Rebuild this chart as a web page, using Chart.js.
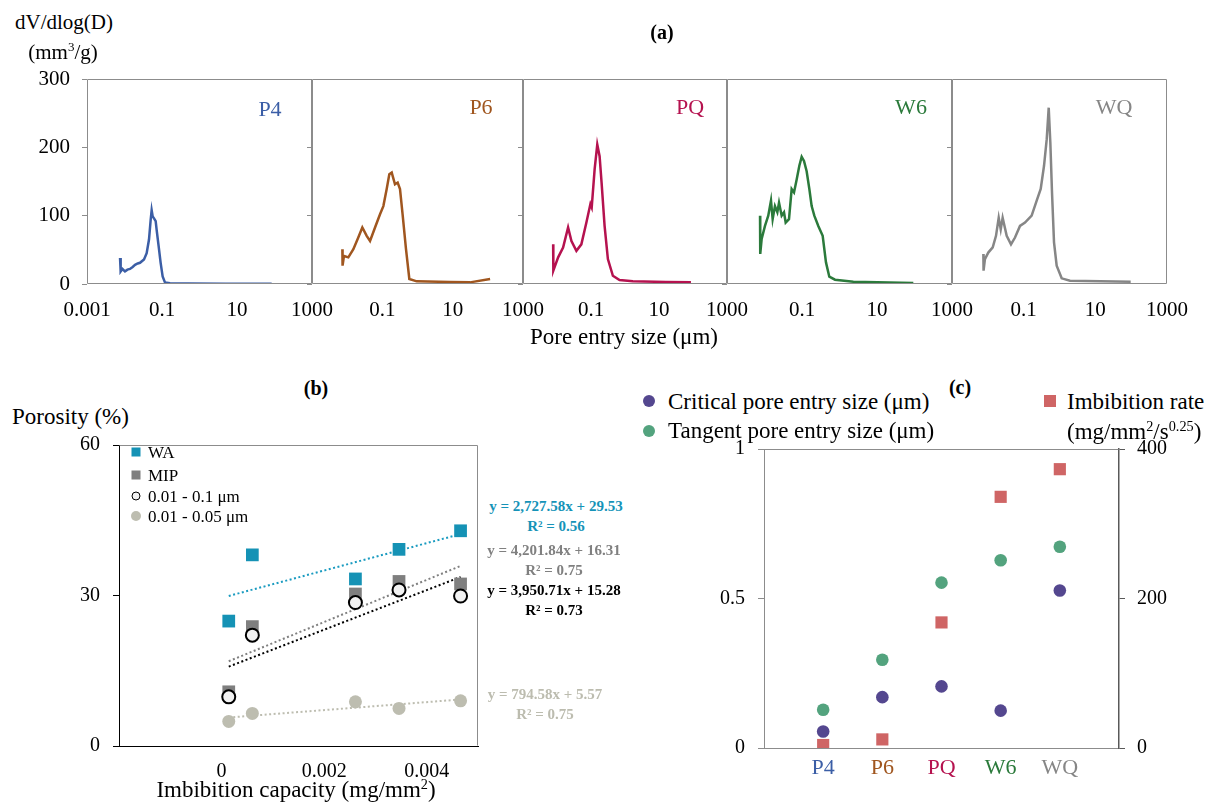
<!DOCTYPE html>
<html>
<head>
<meta charset="utf-8">
<title>Pore structure and imbibition</title>
<script src="https://cdn.jsdelivr.net/npm/chart.js@4.4.1/dist/chart.umd.min.js"></script>
<style>
  body { margin: 0; background: #fff; }
  #page { position: relative; width: 1218px; height: 805px; overflow: hidden;
          font-family: "Liberation Serif", "Times New Roman", serif; color: #000; }
  #page canvas { position: absolute; }
  .t { position: absolute; white-space: nowrap; line-height: 1; }
  .c { transform: translate(-50%, -50%); text-align: center; }
  .l { transform: translateY(-50%); }
  .b { font-weight: bold; }
  .eq { position: absolute; font-weight: bold; font-size: 15px; line-height: 19.5px;
        text-align: center; white-space: nowrap; transform: translate(-50%, -50%); }
  .mk { position: absolute; transform: translate(-50%, -50%); box-sizing: border-box; }
  sup { font-size: 0.62em; line-height: 0; vertical-align: 0.55em; }
</style>
</head>
<body>
<div id="page">
  <canvas id="p4"></canvas>
  <canvas id="p6"></canvas>
  <canvas id="pq"></canvas>
  <canvas id="w6"></canvas>
  <canvas id="wq"></canvas>
  <canvas id="chartB"></canvas>
  <canvas id="chartC"></canvas>

  <!-- (a) -->
  <div class="t c" style="left:64px;top:22px;font-size:21px;">dV/dlog(D)</div>
  <div class="t c" style="left:63px;top:52px;font-size:21px;">(mm<sup>3</sup>/g)</div>
  <div class="t c b" style="left:662px;top:32px;font-size:20px;">(a)</div>
  <div class="t c" style="left:270px;top:109px;font-size:22px;color:#3B5EA6;">P4</div>
  <div class="t c" style="left:481px;top:107px;font-size:22px;color:#A0561F;">P6</div>
  <div class="t c" style="left:690px;top:107px;font-size:22px;color:#B5124F;">PQ</div>
  <div class="t c" style="left:911px;top:107px;font-size:22px;color:#2B7A3B;">W6</div>
  <div class="t c" style="left:1114px;top:107px;font-size:22px;color:#868686;">WQ</div>
  <div class="t c" style="left:624px;top:336px;font-size:23px;">Pore entry size (μm)</div>

  <!-- (b) -->
  <div class="t c b" style="left:316px;top:388px;font-size:20px;">(b)</div>
  <div class="t l" style="left:12px;top:416px;font-size:23px;">Porosity (%)</div>
  <div class="mk" style="left:136px;top:452px;width:9px;height:9px;background:#1592B5;"></div>
  <div class="mk" style="left:136px;top:475px;width:9px;height:9px;background:#7F7F7F;"></div>
  <div class="mk" style="left:136px;top:496px;width:9px;height:9px;border-radius:50%;border:1.5px solid #000;background:#F2F2F2;"></div>
  <div class="mk" style="left:136px;top:516px;width:10px;height:10px;border-radius:50%;background:#BDBDB0;"></div>
  <div class="t l" style="left:148px;top:452px;font-size:17px;">WA</div>
  <div class="t l" style="left:148px;top:475px;font-size:17px;">MIP</div>
  <div class="t l" style="left:148px;top:496px;font-size:17px;">0.01 - 0.1 μm</div>
  <div class="t l" style="left:148px;top:516px;font-size:17px;">0.01 - 0.05 μm</div>
  <div class="eq" style="left:556px;top:516px;color:#1593B8;">y = 2,727.58x + 29.53<br>R² = 0.56</div>
  <div class="eq" style="left:554px;top:560px;color:#808080;">y = 4,201.84x + 16.31<br>R² = 0.75</div>
  <div class="eq" style="left:554px;top:600px;color:#000;">y = 3,950.71x + 15.28<br>R² = 0.73</div>
  <div class="eq" style="left:545px;top:704px;color:#BCBCAF;">y = 794.58x + 5.57<br>R² = 0.75</div>
  <div class="t c" style="left:296px;top:789px;font-size:23px;">Imbibition capacity (mg/mm<sup>2</sup>)</div>

  <!-- (c) -->
  <div class="t c b" style="left:960px;top:387px;font-size:20px;">(c)</div>
  <div class="mk" style="left:649px;top:401px;width:12px;height:12px;border-radius:50%;background:#54478F;"></div>
  <div class="mk" style="left:649px;top:431px;width:12px;height:12px;border-radius:50%;background:#53A37E;"></div>
  <div class="t l" style="left:668px;top:401px;font-size:23px;">Critical pore entry size (μm)</div>
  <div class="t l" style="left:668px;top:430px;font-size:23px;">Tangent pore entry size (μm)</div>
  <div class="mk" style="left:1050px;top:401px;width:12px;height:12px;background:#CF6565;"></div>
  <div class="t l" style="left:1067px;top:401px;font-size:23px;">Imbibition rate</div>
  <div class="t l" style="left:1067px;top:431px;font-size:23px;">(mg/mm<sup>2</sup>/s<sup>0.25</sup>)</div>
</div>

<script>
// (a) pore size distributions, pore entry size (um) vs dV/dlog(D) (mm3/g)
const p4Size = [0.0076, 0.0079, 0.0088, 0.0103, 0.0120, 0.0140, 0.0165, 0.0191, 0.0225, 0.0259, 0.0331, 0.039, 0.045, 0.0499, 0.053, 0.0564, 0.0612, 0.0678, 0.0721, 0.0815, 0.092, 0.104, 0.120, 0.163, 0.5, 5, 84];
const p4Dv   = [38, 18.5, 22, 18.5, 21, 22, 25, 28, 30, 31, 36, 45, 65, 94, 108, 99, 96, 92, 79, 55, 31, 11, 2.4, 1, 0.6, 0.5, 0.5];

const p6Size = [0.0073, 0.0074, 0.0081, 0.0108, 0.015, 0.0207, 0.027, 0.0359, 0.0447, 0.062, 0.0859, 0.107, 0.133, 0.158, 0.185, 0.229, 0.273, 0.318, 0.38, 0.471, 0.586, 0.95, 8.4, 31, 116];
const p6Dv   = [51, 26.8, 41, 39, 51, 68, 82.7, 70.5, 63, 82.7, 102, 114, 139, 160.6, 163, 146, 148.5, 139, 100, 51, 7.3, 3.9, 2.9, 2.4, 7.3];

const pqSize = [0.0077, 0.0078, 0.0108, 0.0151, 0.0212, 0.0266, 0.0372, 0.052, 0.0732, 0.096, 0.105, 0.128, 0.153, 0.179, 0.205, 0.251, 0.314, 0.44, 0.69, 1.7, 16, 87];
const pqDv   = [58, 19.5, 39, 53.5, 82.7, 63, 48.6, 58, 90, 117, 112, 168, 204, 187, 148, 85, 36.5, 12, 5.8, 3.9, 2.9, 2.4];

const w6Size = [0.0076, 0.0077, 0.0084, 0.0103, 0.0126, 0.0149, 0.0165, 0.019, 0.022, 0.0244, 0.0287, 0.0331, 0.0367, 0.045, 0.053, 0.0612, 0.0721, 0.0849, 0.098, 0.113, 0.133, 0.157, 0.181, 0.213, 0.272, 0.356, 0.436, 0.535, 0.759, 2.34, 93];
const w6Dv   = [100, 44, 66, 85, 100, 122, 95, 114, 105, 119, 100, 105, 90, 95, 139, 134, 153, 173, 186, 180, 165, 139, 114, 100, 85, 70.5, 31.6, 10.7, 6.3, 3.4, 1.5];

const wqSize = [0.0075, 0.0076, 0.0083, 0.0103, 0.0137, 0.0169, 0.0201, 0.0229, 0.0259, 0.0336, 0.0443, 0.0573, 0.079, 0.109, 0.167, 0.231, 0.299, 0.37, 0.44, 0.5, 0.555, 0.618, 0.703, 0.834, 1.15, 1.96, 97];
const wqDv   = [44, 19.5, 36.5, 46, 53.6, 70.5, 97, 80, 97, 70.5, 58, 68, 85, 90, 100, 122, 139, 173, 212, 258, 207, 134, 61, 26.8, 8.3, 4.8, 3.4];

const sizeTicks = [0.001, 0.1, 10, 1000];
const dvTicks = [0, 100, 200, 300];

// (b) porosity vs imbibition capacity
const capacity    = [0.00014, 0.0006, 0.00261, 0.00346, 0.00466];
const porosityWA  = [24.9, 38.1, 33.3, 39.2, 42.9];
const porosityMIP = [10.8, 23.8, 30.3, 32.8, 32.3];
const porosity01  = [9.8, 22.1, 28.6, 31.1, 29.9];
const porosity005 = [4.9, 6.5, 8.8, 7.5, 9.0];
// trendlines as printed on the chart (WA, MIP, 0.01-0.1, 0.01-0.05)
const trendSlope     = [2727.58, 4201.84, 3950.71, 794.58];
const trendIntercept = [29.53, 16.31, 15.28, 5.57];
const capacityTicks = [0, 0.002, 0.004];
const porosityTicks = [0, 30, 60];

// (c) pore sizes and imbibition rate per sample
const samples        = ['P4', 'P6', 'PQ', 'W6', 'WQ'];
const criticalSize   = [0.055, 0.170, 0.206, 0.125, 0.527];
const tangentSize    = [0.128, 0.295, 0.553, 0.628, 0.673];
const imbibitionRate = [4, 11.5, 168, 336, 373];
const sizeAxisTicks  = [0, 0.5, 1];
const rateAxisTicks  = [0, 200, 400];

const sampleColors = ['#3B5EA6', '#A0561F', '#B5124F', '#2B7A3B', '#868686'];
const tickFont = { family: '"Liberation Serif", "Times New Roman", serif', size: 20 };

// draws the box lines around the plot area that are not axes
const framePlugin = {
  id: 'frame',
  afterDraw(chart, args, opts) {
    const a = chart.chartArea, ctx = chart.ctx;
    const l = Math.round(a.left) + 0.5, r = Math.round(a.right) - 0.5;
    const t = Math.round(a.top) + 0.5, b = Math.round(a.bottom) - 0.5;
    const sides = opts.sides || '';
    ctx.save();
    ctx.strokeStyle = opts.color || '#8c8c8c';
    ctx.lineWidth = 1;
    ctx.beginPath();
    if (sides.includes('t')) { ctx.moveTo(l, t); ctx.lineTo(r, t); }
    if (sides.includes('r')) { ctx.moveTo(r, t); ctx.lineTo(r, b); }
    if (sides.includes('b')) { ctx.moveTo(l, b); ctx.lineTo(r, b); }
    if (sides.includes('l')) { ctx.moveTo(l, t); ctx.lineTo(l, b); }
    ctx.stroke();
    ctx.restore();
  }
};

function placeCanvas(id, left, top, width, height) {
  const cv = document.getElementById(id);
  cv.width = width;
  cv.height = height;
  cv.style.left = left + 'px';
  cv.style.top = top + 'px';
  cv.style.width = width + 'px';
  cv.style.height = height + 'px';
  return cv;
}

const toTicks = values => values.map(v => ({ value: v }));

// ---- (a) five small panels
const panels = [
  { id: 'p4', size: p4Size, dv: p4Dv, color: sampleColors[0], left: 87,  right: 312,  first: true },
  { id: 'p6', size: p6Size, dv: p6Dv, color: sampleColors[1], left: 312, right: 523 },
  { id: 'pq', size: pqSize, dv: pqDv, color: sampleColors[2], left: 523, right: 727 },
  { id: 'w6', size: w6Size, dv: w6Dv, color: sampleColors[3], left: 727, right: 952 },
  { id: 'wq', size: wqSize, dv: wqDv, color: sampleColors[4], left: 952, right: 1167 }
];
const panelTop = 79, panelBottom = 284;

panels.forEach(p => {
  const yW = p.first ? 87 : 8;
  const padT = 16, padR = 30, xH = 45;
  const w = yW + (p.right - p.left) + padR;
  const h = padT + (panelBottom - panelTop) + xH;
  const cv = placeCanvas(p.id, p.left - yW, panelTop - padT, w, h);
  new Chart(cv, {
    type: 'line',
    data: {
      datasets: [{
        data: p.size.map((d, i) => ({ x: d, y: p.dv[i] })),
        borderColor: p.color,
        borderWidth: 2.5,
        pointRadius: 0,
        tension: 0
      }]
    },
    options: {
      responsive: false,
      animation: false,
      devicePixelRatio: 1,
      layout: { padding: { top: padT, right: padR, left: 0, bottom: 0 } },
      plugins: {
        legend: { display: false },
        tooltip: { enabled: false },
        frame: { sides: 'tlbr', color: '#8c8c8c' }
      },
      scales: {
        x: {
          type: 'logarithmic',
          min: 0.001,
          max: 1000,
          afterBuildTicks: s => { s.ticks = toTicks(sizeTicks); },
          afterFit: s => { s.height = xH; s.paddingLeft = 0; s.paddingRight = 0; },
          grid: { display: false, drawTicks: false },
          border: { display: false },
          ticks: {
            autoSkip: false, maxRotation: 0, minRotation: 0, padding: 14,
            color: '#000', font: { ...tickFont, size: 21 },
            callback: v => (!p.first && v === 0.001) ? '' : String(v)
          }
        },
        y: {
          min: 0,
          max: 300,
          afterBuildTicks: s => { s.ticks = toTicks(dvTicks); },
          afterFit: s => { s.width = yW; s.paddingTop = 0; s.paddingBottom = 0; },
          grid: { drawOnChartArea: false, tickLength: 5, color: '#8c8c8c' },
          border: { display: false },
          ticks: { display: !!p.first, padding: 12, color: '#000', font: { ...tickFont, size: 21 } }
        }
      }
    },
    plugins: [framePlugin]
  });
});

// ---- (b) porosity vs imbibition capacity
(function () {
  const left = 119, right = 478, top = 445, bottom = 746;
  const padT = 14, padR = 10, xH = 40;
  const cv = placeCanvas('chartB', 0, top - padT, right + padR, padT + (bottom - top) + xH);
  const pts = ys => capacity.map((x, i) => ({ x, y: ys[i] }));
  const trend = (k, color) => {
    const x0 = capacity[0], x1 = capacity[capacity.length - 1];
    return {
      data: [{ x: x0, y: trendSlope[k] * x0 + trendIntercept[k] }, { x: x1, y: trendSlope[k] * x1 + trendIntercept[k] }],
      showLine: true, borderColor: color, borderWidth: 2, borderDash: [2, 2.5], pointRadius: 0, order: 10
    };
  };
  new Chart(cv, {
    type: 'scatter',
    data: {
      datasets: [
        { label: 'WA', data: pts(porosityWA), pointStyle: 'rect', pointRadius: 9, backgroundColor: '#1592B5', borderWidth: 0, order: 3 },
        { label: 'MIP', data: pts(porosityMIP), pointStyle: 'rect', pointRadius: 9, backgroundColor: '#7F7F7F', borderWidth: 0, order: 2 },
        { label: '0.01 - 0.1 μm', data: pts(porosity01), pointRadius: 6.5, backgroundColor: '#F2F2F2', borderColor: '#000', borderWidth: 2, order: 1 },
        { label: '0.01 - 0.05 μm', data: pts(porosity005), pointRadius: 6.5, backgroundColor: '#BDBDB0', borderWidth: 0, order: 4 },
        trend(0, '#1A9BC0'),
        trend(1, '#808080'),
        trend(2, '#000000'),
        trend(3, '#BDBDB0')
      ]
    },
    options: {
      responsive: false,
      animation: false,
      devicePixelRatio: 1,
      layout: { padding: { top: padT, right: padR, left: 0, bottom: 0 } },
      plugins: {
        legend: { display: false },
        tooltip: { enabled: false },
        frame: { sides: 'tr', color: '#8c8c8c' }
      },
      scales: {
        x: {
          type: 'linear',
          min: -0.002,
          max: 0.005,
          afterBuildTicks: s => { s.ticks = toTicks(capacityTicks); },
          afterFit: s => { s.height = xH; s.paddingLeft = 0; s.paddingRight = 0; },
          grid: { display: false, drawTicks: false },
          border: { display: true, color: '#000', width: 1 },
          ticks: { padding: 14, color: '#000', font: tickFont, callback: v => v === 0 ? '0' : v.toFixed(3) }
        },
        y: {
          min: 0,
          max: 60,
          afterBuildTicks: s => { s.ticks = toTicks(porosityTicks); },
          afterFit: s => { s.width = left; s.paddingTop = 0; s.paddingBottom = 0; },
          grid: { drawOnChartArea: false, tickLength: 6, color: '#000' },
          border: { display: true, color: '#000', width: 1 },
          ticks: { padding: 13, color: '#000', font: tickFont }
        }
      }
    },
    plugins: [framePlugin]
  });
})();

// ---- (c) pore sizes and imbibition rate
(function () {
  const left = 764, right = 1119, top = 449, bottom = 748;
  const yW = 50, yR = 60, padT = 14, padR = 5, xH = 40;
  const cv = placeCanvas('chartC', left - yW, top - padT, yW + (right - left) + yR + padR, padT + (bottom - top) + xH);
  const pts = ys => samples.map((s, i) => ({ x: i + 1, y: ys[i] }));
  new Chart(cv, {
    type: 'scatter',
    data: {
      datasets: [
        { label: 'Critical pore entry size (μm)', data: pts(criticalSize), yAxisID: 'y', pointRadius: 6.3, backgroundColor: '#54478F', borderWidth: 0, order: 2 },
        { label: 'Tangent pore entry size (μm)', data: pts(tangentSize), yAxisID: 'y', pointRadius: 6.3, backgroundColor: '#53A37E', borderWidth: 0, order: 3 },
        { label: 'Imbibition rate', data: pts(imbibitionRate), yAxisID: 'y2', pointStyle: 'rect', pointRadius: 8.6, backgroundColor: '#CF6565', borderWidth: 0, order: 1 }
      ]
    },
    options: {
      responsive: false,
      animation: false,
      devicePixelRatio: 1,
      layout: { padding: { top: padT, right: padR, left: 0, bottom: 0 } },
      plugins: {
        legend: { display: false },
        tooltip: { enabled: false },
        frame: { sides: 't', color: '#8c8c8c' }
      },
      scales: {
        x: {
          type: 'linear',
          min: 0,
          max: samples.length + 1,
          afterBuildTicks: s => { s.ticks = toTicks(samples.map((n, i) => i + 1)); },
          afterFit: s => { s.height = xH; s.paddingLeft = 0; s.paddingRight = 0; },
          grid: { display: false, drawTicks: false },
          border: { display: true, color: '#8c8c8c', width: 1 },
          ticks: {
            padding: 7,
            font: { ...tickFont, size: 22 },
            color: ctx => sampleColors[ctx.index] || '#000',
            callback: v => samples[v - 1] || ''
          }
        },
        y: {
          position: 'left',
          min: 0,
          max: 1,
          afterBuildTicks: s => { s.ticks = toTicks(sizeAxisTicks); },
          afterFit: s => { s.width = yW; s.paddingTop = 0; s.paddingBottom = 0; },
          grid: { drawOnChartArea: false, tickLength: 6, color: '#8c8c8c' },
          border: { display: true, color: '#8c8c8c', width: 1 },
          ticks: { padding: 13, color: '#000', font: tickFont, callback: v => String(v) }
        },
        y2: {
          position: 'right',
          min: 0,
          max: 400,
          afterBuildTicks: s => { s.ticks = toTicks(rateAxisTicks); },
          afterFit: s => { s.width = yR; s.paddingTop = 0; s.paddingBottom = 0; },
          grid: { drawOnChartArea: false, tickLength: 6, color: '#595959' },
          border: { display: true, color: '#595959', width: 1.5 },
          ticks: { padding: 12, color: '#000', font: tickFont, callback: v => String(v) }
        }
      }
    },
    plugins: [framePlugin]
  });
})();
</script>
</body>
</html>
